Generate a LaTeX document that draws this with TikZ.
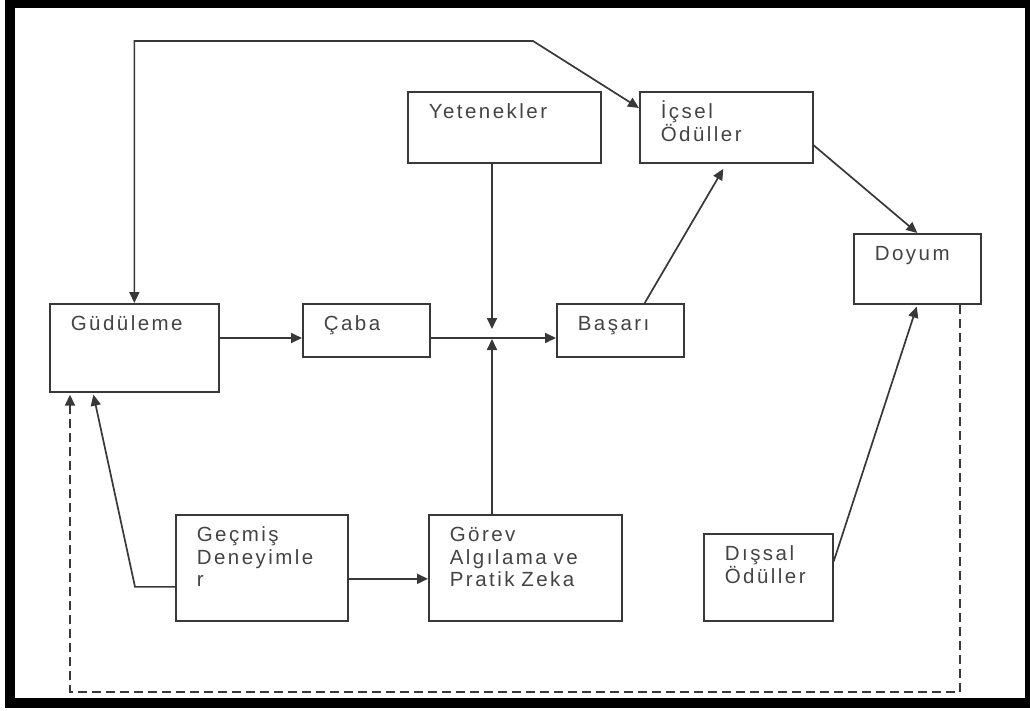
\documentclass[tikz,border=0pt]{standalone}
\usepackage{fontspec}
\setmainfont{Liberation Sans}[LetterSpace=12,WordSpace=1.6]
\usetikzlibrary{arrows.meta}
\definecolor{cizgi}{HTML}{383838}
\definecolor{yazi}{HTML}{444444}
\tikzset{
	kutu/.style={draw=cizgi,line width=1.7pt,anchor=north west,align=left,inner xsep=21pt,inner ysep=0pt,text height=27pt,text=yazi},
	ok/.style={draw=cizgi,line width=1.7pt,-{Triangle[length=11pt,width=10pt]}},
	ciftok/.style={draw=cizgi,line width=1.7pt,{Triangle[length=11pt,width=10pt]}-{Triangle[length=11pt,width=10pt]}},
}
\begin{document}
\begin{tikzpicture}[x=1pt,y=-1pt,font=\fontsize{20.5}{22.5}\selectfont]
	\useasboundingbox (0,0) rectangle (1030,711);
	\fill[black] (5,0) rectangle (1030,708);
	\fill[white] (15,8) rectangle (1025,698);
	% kutular
	\node[kutu,text width=127pt,text depth=61pt] (gud) at (49,303) {Güdüleme};
	\node[kutu,text width=85pt,text depth=26pt] (caba) at (302,303) {Çaba};
	\node[kutu,text width=151pt,text depth=44pt] (yet) at (407,91) {Yetenekler};
	\node[kutu,text width=131pt,text depth=44pt] (icsel) at (639,91) {İçsel\\Ödüller};
	\node[kutu,text width=85pt,text depth=43pt] (doyum) at (853,233) {Doyum};
	\node[kutu,text width=85pt,text depth=26pt] (basari) at (556,303) {Başarı};
	\node[kutu,text width=130pt,text depth=79pt] (gecmis) at (175,514) {Geçmiş\\Deneyimle\\r};
	\node[kutu,text width=151pt,text depth=79pt] (gorev) at (428,514) {Görev\\Algılama ve\\Pratik Zeka};
	\node[kutu,text width=87pt,text depth=60pt] (dissal) at (703,533) {Dışsal\\Ödüller};
	\path (533,41) coordinate (ust)
		(492,338) coordinate (kes)
		;
	% oklar
	\draw[ciftok] (gud.north) |- (ust) -- ([yshift=-17pt]icsel.north west);
	\draw[ok] (gud.east |- kes) -- (caba.west |- kes);
	\draw[ok] (caba.east |- kes) -- (basari.west |- kes);
	\draw[ok] (kes |- yet.south) -- ([yshift=9pt]kes);
	\draw[ok] (kes |- gorev.north) -- ([yshift=-1pt]kes);
	\draw[ok,shorten >=6pt] ([xshift=-40pt]basari.north east) -- (icsel.south);
	\draw[ok] ([yshift=-18pt]icsel.east) -- (doyum.north);
	\draw[ok,shorten >=2pt] ([yshift=16pt]dissal.east) -- (doyum.south);
	\draw[ok,shorten >=2pt] ([yshift=-19pt]gecmis.west) -- ++(-40,0) -- ([xshift=44pt]gud.south west);
	\draw[ok] ([yshift=-11pt]gecmis.east) -- ([yshift=-11pt]gorev.west);
	\draw[ok,dash pattern=on 9pt off 5pt,shorten >=2pt] ([xshift=-22pt]doyum.south east) -- ++(0,387) -| ([xshift=21pt]gud.south west);
\end{tikzpicture}
\end{document}
